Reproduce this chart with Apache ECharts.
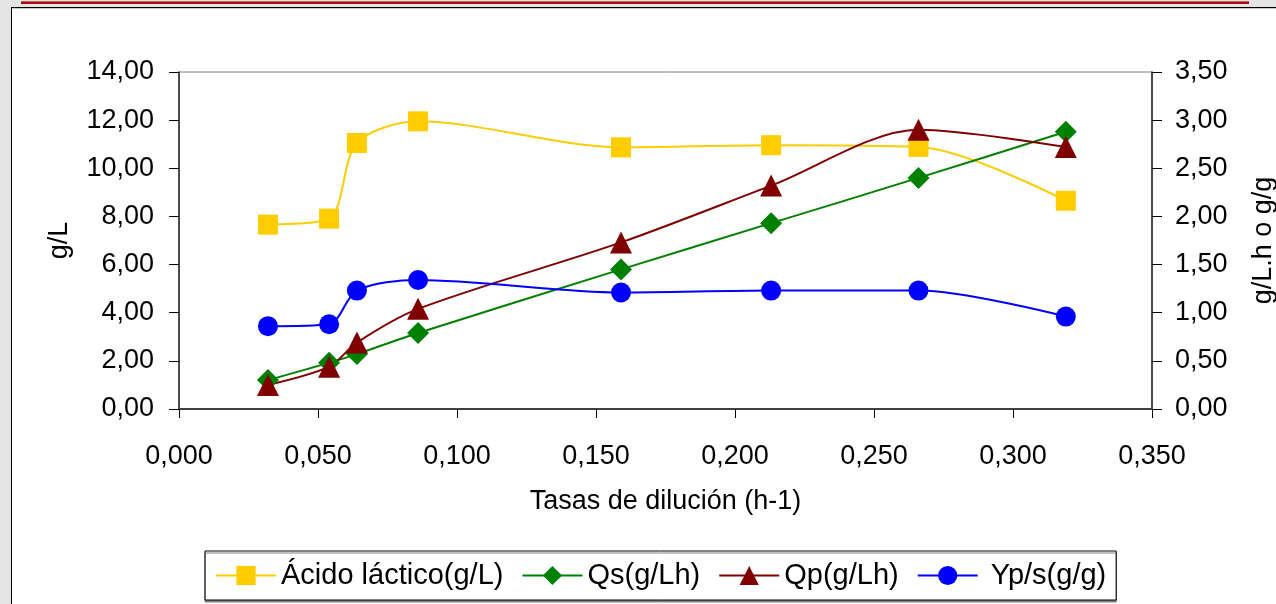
<!DOCTYPE html>
<html>
<head>
<meta charset="utf-8">
<script src="https://cdn.jsdelivr.net/npm/echarts@6/dist/echarts.min.js"></script>
<style>
  html, body { margin: 0; padding: 0; width: 1276px; height: 604px; overflow: hidden; background: #e4e4e4; }
  #frame { position: absolute; left: 11px; top: 7px; width: 1265px; height: 597px; background: #fff; border-top: 1px solid #000; border-left: 1px solid #000; }
  #frame2 { position: absolute; left: 12px; top: 8px; width: 1264px; height: 1px; background: #c8c8c8; }
  #redbar { position: absolute; left: 21px; top: 1px; width: 1228px; height: 3px; background: #a30f12; border-top: 1px solid #c9575a; box-sizing: border-box; }
  #chart { position: absolute; left: 0; top: 0; width: 1276px; height: 604px; }
</style>
</head>
<body>
<div id="redbar"></div>
<div id="frame"></div>
<div id="frame2"></div>
<div id="chart"></div>
<script>
// Data
const dilution = [0.032, 0.054, 0.064, 0.086, 0.159, 0.213, 0.266, 0.319];
const lactic   = [7.66, 7.91, 11.05, 11.95, 10.87, 10.96, 10.89, 8.65];
const qs       = [0.30, 0.48, 0.57, 0.79, 1.45, 1.93, 2.40, 2.88];
const qp       = [0.25, 0.44, 0.69, 1.04, 1.73, 2.32, 2.90, 2.72];
const yps      = [0.86, 0.88, 1.23, 1.34, 1.21, 1.23, 1.23, 0.96];
const seriesNames = ['Ácido láctico(g/L)', 'Qs(g/Lh)', 'Qp(g/Lh)', 'Yp/s(g/g)'];
const xTitle = 'Tasas de dilución (h-1)';
const yLeftTitle = 'g/L';
const yRightTitle = 'g/L.h o g/g';

const FONT = 'Liberation Sans, Arial, sans-serif';
const FS = 27;
const pair = (xs, ys) => xs.map((x, i) => [x, ys[i]]);
const comma = d => v => v.toFixed(d).replace('.', ',');

const chart = echarts.init(document.getElementById('chart'), null, { renderer: 'canvas' });
const smooth = 0.3;
chart.setOption({
  backgroundColor: 'transparent',
  animation: false,
  textStyle: { fontFamily: FONT, color: '#000' },
  grid: { left: 179, right: 124, top: 72, bottom: 195, outerBoundsMode: 'none', containLabel: false,
          show: true, borderColor: '#808080', borderWidth: 1, backgroundColor: '#fff' },
  legend: {
    left: 205, top: 551,
    padding: [10, 10, 10, 10],
    itemWidth: 60, itemHeight: 24, itemGap: 18,
    borderColor: '#000', borderWidth: 1,
    backgroundColor: '#fff',
    shadowColor: '#808080', shadowOffsetX: 0, shadowOffsetY: 2, shadowBlur: 0,
    textStyle: { fontFamily: FONT, fontSize: 29, color: '#000' },
    formatter: name => (name === seriesNames[3] ? ' ' + name : name),
    data: seriesNames
  },
  xAxis: {
    type: 'value', min: 0, max: 0.35, interval: 0.05,
    name: xTitle, nameLocation: 'middle', nameGap: 79,
    nameTextStyle: { fontFamily: FONT, fontSize: FS, color: '#000' },
    axisLine: { show: true, onZero: false, lineStyle: { color: '#404040', width: 2 } },
    axisTick: { show: true, length: 9, lineStyle: { color: '#000', width: 1 } },
    axisLabel: { formatter: comma(3), fontFamily: FONT, fontSize: FS, color: '#000', margin: 34 },
    splitLine: { show: false }
  },
  yAxis: [
    {
      type: 'value', min: 0, max: 14, interval: 2, position: 'left',
      name: yLeftTitle, nameLocation: 'middle', nameGap: 106, nameRotate: 90,
      nameTextStyle: { fontFamily: FONT, fontSize: FS, color: '#000' },
      axisLine: { show: true, onZero: false, lineStyle: { color: '#222', width: 1.5 } },
      axisTick: { show: true, length: 9, lineStyle: { color: '#000', width: 1 } },
      axisLabel: { formatter: comma(2), fontFamily: FONT, fontSize: FS, color: '#000', margin: 25 },
      splitLine: { show: false }
    },
    {
      type: 'value', min: 0, max: 3.5, interval: 0.5, position: 'right',
      name: yRightTitle, nameLocation: 'middle', nameGap: 98, nameRotate: 90,
      nameTextStyle: { fontFamily: FONT, fontSize: FS, color: '#000' },
      axisLine: { show: true, onZero: false, lineStyle: { color: '#222', width: 1.5 } },
      axisTick: { show: true, length: 10, lineStyle: { color: '#000', width: 1 } },
      axisLabel: { formatter: comma(2), fontFamily: FONT, fontSize: FS, color: '#000', margin: 23 },
      splitLine: { show: false }
    },
    {
      type: 'value', min: 0, max: 3.5, interval: 0.5, position: 'right',
      axisLine: { show: false },
      axisTick: { show: true, inside: true, length: 10, lineStyle: { color: '#000', width: 1 } },
      axisLabel: { show: false },
      splitLine: { show: false }
    }
  ],
  series: [
    {
      name: seriesNames[0], type: 'line', yAxisIndex: 0, smooth: smooth,
      data: pair(dilution, lactic),
      symbol: 'rect', symbolSize: 20,
      lineStyle: { color: '#FFCC00', width: 2 },
      itemStyle: { color: '#FFCC00' }
    },
    {
      name: seriesNames[1], type: 'line', yAxisIndex: 1, smooth: smooth,
      data: pair(dilution, qs),
      symbol: 'diamond', symbolSize: 22,
      lineStyle: { color: '#008000', width: 2 },
      itemStyle: { color: '#008000' }
    },
    {
      name: seriesNames[2], type: 'line', yAxisIndex: 1, smooth: smooth,
      data: pair(dilution, qp),
      symbol: 'triangle', symbolSize: 22,
      lineStyle: { color: '#800000', width: 2 },
      itemStyle: { color: '#800000' }
    },
    {
      name: seriesNames[3], type: 'line', yAxisIndex: 1, smooth: smooth,
      data: pair(dilution, yps),
      symbol: 'circle', symbolSize: 20,
      lineStyle: { color: '#0000FF', width: 2 },
      itemStyle: { color: '#0000FF' }
    }
  ]
});
</script>
</body>
</html>
